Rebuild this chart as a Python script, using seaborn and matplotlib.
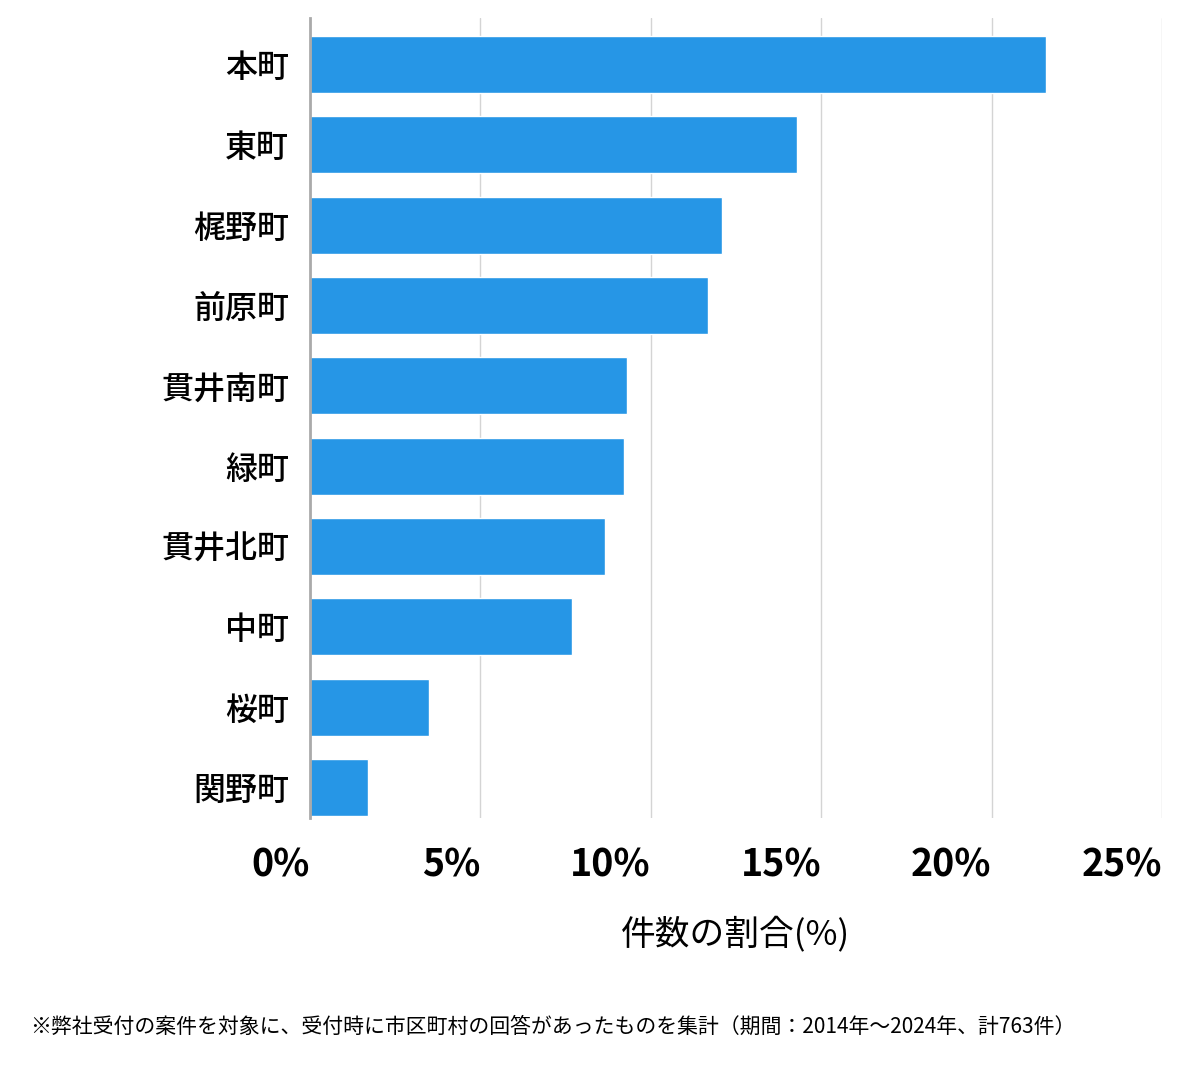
import matplotlib
matplotlib.use("Agg")
import matplotlib.pyplot as plt
import seaborn as sns
import pandas as pd

categories = ["本町", "東町", "梶野町", "前原町", "貫井南町", "緑町", "貫井北町", "中町", "桜町", "関野町"]
shares = [21.6, 14.29, 12.08, 11.69, 9.3, 9.2, 8.67, 7.7, 3.5, 1.7]
xticks = [0, 5, 10, 15, 20, 25]
xtick_labels = ["0%", "5%", "10%", "15%", "20%", "25%"]
xlabel = "件数の割合(%)"
footnote = "※弊社受付の案件を対象に、受付時に市区町村の回答があったものを集計（期間：2014年～2024年、計763件）"

sns.set_theme(style="white")
plt.rcParams['font.family'] = ['Noto Sans CJK JP', 'DejaVu Sans']
plt.rcParams['text.color'] = 'black'
plt.rcParams['xtick.color'] = 'black'
plt.rcParams['ytick.color'] = 'black'
plt.rcParams['axes.labelcolor'] = 'black'

df = pd.DataFrame({"cat": categories, "share": shares})

fig = plt.figure(figsize=(12, 10.69), dpi=100)
ax = fig.add_axes([310/1200, 1-818/1069, (1162-310)/1200, (818-18)/1069])

sns.barplot(data=df, x="share", y="cat", orient="h", color="#2696e6",
            saturation=1, width=0.71, ax=ax, zorder=3)

ax.set_xlim(0, 25)
ax.set_ylim(9.38, -0.58)
ax.set_xticks(xticks)
ax.set_xticklabels(xtick_labels, fontsize=27, fontweight="bold", ha="right")
ax.tick_params(axis="x", length=0, pad=20)
ax.tick_params(axis="y", length=0, pad=15, labelsize=23)
for lbl in ax.get_yticklabels():
    lbl.set_fontweight("medium")
ax.set_ylabel("")
ax.set_xlabel(xlabel, fontsize=25, labelpad=23)

ax.grid(axis="x", color="#d4d4d4", linewidth=1.0, zorder=0)
ax.grid(axis="y", visible=False)
for s in ["top", "right", "bottom"]:
    ax.spines[s].set_visible(False)
ax.spines["left"].set_color("#aaaaaa")
ax.spines["left"].set_linewidth(2)
ax.spines["left"].set_zorder(4)

fig.text(30/1200, 1-1027/1069, footnote, fontsize=15, va="center", ha="left", color="black")

fig.savefig("out.png", dpi=100, facecolor="white")
